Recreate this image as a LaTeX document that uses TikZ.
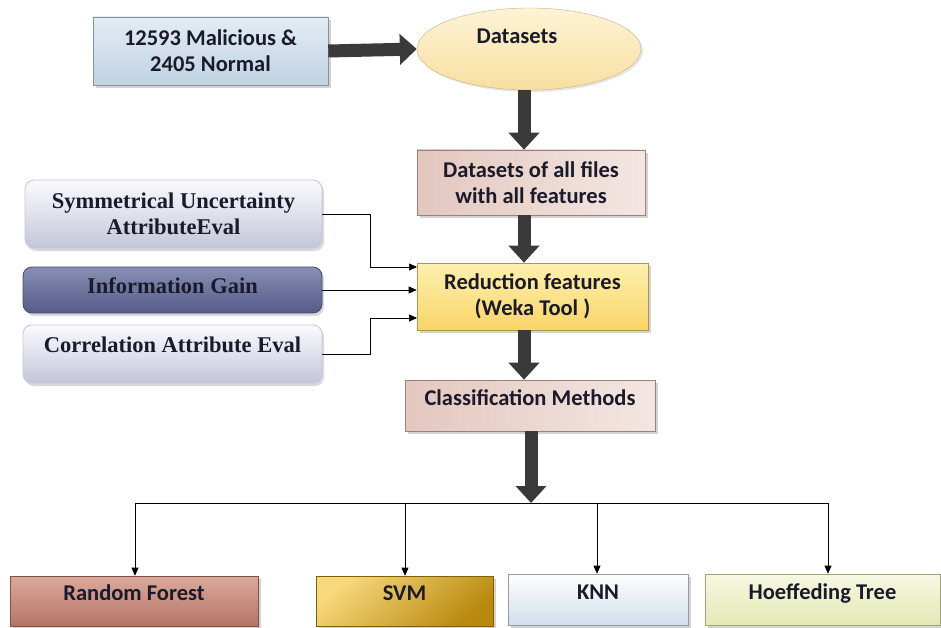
\documentclass[tikz,border=0pt]{standalone}
\usepackage{fontspec}
\setmainfont{Liberation Serif}
\newfontfamily\calfont{Carlito}
\usetikzlibrary{shapes.geometric,arrows.meta,shadows}
\definecolor{malA}{HTML}{E4ECF3}
\definecolor{malB}{HTML}{BFD2E3}
\definecolor{ellA}{HTML}{FDF3D6}
\definecolor{ellB}{HTML}{F8DFA0}
\definecolor{pinkA}{HTML}{F3E6E2}
\definecolor{pinkB}{HTML}{DDB9AF}
\definecolor{yelA}{HTML}{FEF0B0}
\definecolor{yelB}{HTML}{F9D568}
\definecolor{lavA}{HTML}{FBFBFE}
\definecolor{lavB}{HTML}{C3C6DA}
\definecolor{igA}{HTML}{8A8FB5}
\definecolor{igB}{HTML}{565B88}
\definecolor{rfA}{HTML}{DAA99C}
\definecolor{rfB}{HTML}{B57565}
\definecolor{svA}{HTML}{F8D87C}
\definecolor{svB}{HTML}{B8890F}
\definecolor{knA}{HTML}{FFFFFF}
\definecolor{knB}{HTML}{D3DEEA}
\definecolor{hoA}{HTML}{F6F8E2}
\definecolor{hoB}{HTML}{E2E9B4}
\definecolor{fatgray}{HTML}{3A3A3A}
\definecolor{txt}{HTML}{1A1A2A}
\begin{document}
\begin{tikzpicture}[x=1pt,y=-1pt,
  sbox/.style={draw=#1!70!black, line width=0.6pt, align=center, inner sep=0pt,
     font=\calfont\bfseries\fontsize{22.5}{26}\selectfont, text=txt,
     drop shadow={shadow xshift=3pt, shadow yshift=-3pt, opacity=0.35}},
  rbox/.style={draw=#1, line width=0.8pt, rounded corners=9pt, align=center, inner sep=0pt,
     font=\bfseries\fontsize{22.5}{26}\selectfont, text=txt,
     drop shadow={shadow xshift=2pt, shadow yshift=-3pt, opacity=0.3}},
  lift/.style={text height=16pt, text depth=#1},
  fat/.style={line width=13pt, draw=fatgray, -{Triangle[width=30pt,length=17pt]}},
  thin/.style={line width=0.7pt, -{Triangle[width=7pt,length=8pt]}}
]
\useasboundingbox (0,0) rectangle (941,628);

% top row
\node[sbox=malB, top color=malA, bottom color=malB, minimum width=235pt, minimum height=68pt]
  (mal) at (210.5,51) {12593 Malicious \&\\2405 Normal};
\node[ellipse, draw=ellB!80!black, line width=0.4pt, top color=ellA, bottom color=ellB,
  minimum width=224pt, minimum height=82pt, inner sep=0pt,
  drop shadow={shadow xshift=2pt, shadow yshift=-2pt, opacity=0.2}]
  (ds) at (529,49) {};
\node[font=\calfont\bfseries\fontsize{22.5}{26}\selectfont, text=txt] (dstxt) at (517,36) {Datasets};

% center column
\node[sbox=pinkB, left color=pinkB!80, right color=pinkA, minimum width=228pt, minimum height=65pt]
  (all) at (531,182.5) {Datasets of all files\\with all features};
\node[sbox=yelB, top color=yelA, bottom color=yelB, minimum width=231pt, minimum height=67pt]
  (red) at (532.5,296.5) {Reduction features\\(Weka Tool )};
\node[sbox=pinkB, left color=pinkB!80, right color=pinkA, minimum width=250pt, minimum height=51pt, lift=17pt]
  (cls) at (530,405.5) {Classification Methods};

% left column
\node[rbox=lavB, top color=lavA, bottom color=lavB, minimum width=297pt, minimum height=68pt]
  (sym) at (173.5,214) {Symmetrical Uncertainty\\AttributeEval};
\node[rbox=igB!80!black, top color=igA, bottom color=igB, minimum width=299pt, minimum height=46pt, lift=9pt]
  (ig) at (172.5,290) {Information Gain};
\node[rbox=lavB, top color=lavA, bottom color=lavB, minimum width=299pt, minimum height=58pt, lift=19pt]
  (cor) at (172.5,354) {Correlation Attribute Eval};

% bottom row
\node[sbox=rfB, top color=rfA, bottom color=rfB, minimum width=248pt, minimum height=50pt, lift=17pt]
  (rf) at (134,601) {Random Forest};
\node[sbox=svB, top color=svA, bottom color=svB, shading angle=40, minimum width=177pt, minimum height=50pt, lift=17pt]
  (svm) at (404.5,601) {SVM};
\node[sbox=knB, top color=knA, bottom color=knB, minimum width=180pt, minimum height=51pt, lift=17pt]
  (knn) at (598,599.5) {KNN};
\node[sbox=hoB, top color=hoA, bottom color=hoB, minimum width=235pt, minimum height=51pt, lift=17pt]
  (hoe) at (822.5,599.5) {Hoeffeding Tree};

% fat arrows
\coordinate (cx) at (524,0);
\coordinate (bus) at (531,503);
\draw[fat] (mal.east) -- (ds.west);
\draw[fat] (ds.south -| cx) -- (all.north -| cx);
\draw[fat] (all.south -| cx) -- (red.north -| cx);
\draw[fat] (red.south -| cx) -- (cls.north -| cx);
\draw[fat] (cls.south -| bus) -- (bus);

% bus and thin arrows
\coordinate (b1) at (135,503);
\coordinate (b2) at (405,503);
\coordinate (b3) at (597,503);
\coordinate (b4) at (828,503);
\draw[line width=0.8pt] (b1) -- (b4);
\draw[thin] (b1) -- (b1 |- rf.north);
\draw[thin] (b2) -- (b2 |- svm.north);
\draw[thin] (b3) -- (b3 |- knn.north);
\draw[thin] (b4) -- (b4 |- hoe.north);

% left connectors
\coordinate (j) at (370,0);
\coordinate (e1) at (417,267);
\coordinate (e3) at (417,318);
\draw[thin] (sym.east) -- (sym.east -| j) |- (e1);
\draw[thin] (ig.east) -- (red.west |- ig.east);
\draw[thin] (cor.east) -- (cor.east -| j) |- (e3);
\end{tikzpicture}
\end{document}
